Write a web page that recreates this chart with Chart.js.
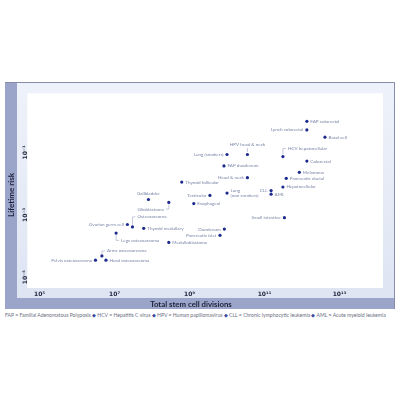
<!DOCTYPE html>
<html>
<head>
<meta charset="utf-8">
<script src="https://cdn.jsdelivr.net/npm/chart.js@4.4.1/dist/chart.umd.min.js"></script>
<style>
  html, body { margin: 0; padding: 0; background: #fff; width: 400px; height: 400px; overflow: hidden; }
  #wrap { position: absolute; left: 5px; top: 82px; width: 390px; height: 227px; }
  #note { position: absolute; left: 5px; top: 312px; white-space: nowrap; font: 5.1px Lato, sans-serif; color: #6a6e80; }
  #note b { color: #3a4a9c; font-weight: normal; }
</style>
</head>
<body>
<div id="wrap"><canvas id="riskChart"></canvas></div>
<div id="note">FAP = Familial Adenomatous Polyposis <b>&#9670;</b> HCV = Hepatitis C virus <b>&#9670;</b> HPV = Human papillomavirus <b>&#9670;</b> CLL = Chronic lymphocytic leukemia <b>&#9670;</b> AML = Acute myeloid leukemia</div>
<script>
// Cancer types, total stem cell divisions, lifetime risk
const cancers = [
  'FAP colorectal', 'Lynch colorectal', 'Basal cell', 'HPV head & neck', 'Lung (smokers)',
  'HCV hepatocellular', 'Colorectal', 'FAP duodenum', 'Melanoma', 'Head & neck',
  'Pancreatic ductal', 'Hepatocellular', 'CLL', 'AML', 'Lung (non smokers)',
  'Thyroid follicular', 'Testicular', 'Esophageal', 'Gallbladder', 'Glioblastoma',
  'Ovarian germ cell', 'Osteosarcoma', 'Thyroid medullary', 'Legs osteosarcoma', 'Medulloblastoma',
  'Duodenum', 'Pancreatic islet', 'Small intestine', 'Arms osteosarcoma', 'Pelvis osteosarcoma',
  'Head osteosarcoma'
];
const divisions = [
  1.35e12, 1.35e12, 4.1e12, 3.5e10, 1.0e10,
  3.1e11, 1.35e12, 8.3e9, 8.5e11, 3.5e10,
  3.8e11, 3.1e11, 1.5e11, 1.5e11, 1.0e10,
  6.2e8, 3.5e9, 1.3e9, 8.0e7, 2.8e8,
  2.2e7, 3.0e7, 6.0e7, 1.1e7, 2.8e8,
  8.5e9, 6.5e9, 3.4e11, 4.6e6, 3.1e6,
  5.9e6
];
const lifetimeRisk = [
  1.0, 0.53, 0.31, 0.086, 0.086,
  0.074, 0.053, 0.037, 0.023, 0.0155,
  0.0148, 0.0078, 0.006, 0.0046, 0.005,
  0.0112, 0.0042, 0.0023, 0.0031, 0.0025,
  0.00049, 0.00041, 0.00037, 0.00026, 0.00013,
  0.00035, 0.00022, 0.00081, 0.000048, 0.000035,
  0.000035
];
const xTicks = [1e5, 1e7, 1e9, 1e11, 1e13];
const yTicks = [1e-1, 1e-3, 1e-5];

// where each label sits relative to its dot (default: right)
const place = {
  'Lynch colorectal': { side: 'l' }, 'Lung (smokers)': { side: 'l' }, 'Head & neck': { side: 'l' },
  'CLL': { side: 'l' }, 'Testicular': { side: 'l' }, 'Ovarian germ cell': { side: 'l' },
  'Duodenum': { side: 'l' }, 'Pancreatic islet': { side: 'l' }, 'Small intestine': { side: 'l' },
  'Pelvis osteosarcoma': { side: 'l' },
  'HPV head & neck': { side: 'up', dy: -9.5, tick: true },
  'Gallbladder': { side: 'up', dy: -5.8 },
  'HCV hepatocellular': { side: 'r', hook: -8 },
  'Osteosarcoma': { side: 'r', hook: -10 },
  'Legs osteosarcoma': { side: 'r', hook: 7.3 },
  'Arms osteosarcoma': { side: 'r', hook: -5 },
  'Glioblastoma': { side: 'l', hook: 6.7 }
};
const multiLine = { 'Lung (non smokers)': ['Lung', '(non smokers)'] };

const supMap = { '-': '\u207B', '0': '\u2070', '1': '\u00B9', '2': '\u00B2', '3': '\u00B3', '4': '\u2074',
  '5': '\u2075', '6': '\u2076', '7': '\u2077', '8': '\u2078', '9': '\u2079' };
function powLabel(v) {
  const e = String(Math.round(Math.log10(v)));
  return '10' + e.split('').map(c => supMap[c]).join('');
}

// Frame: light panel, dark L band, white plot area, axis titles
const framePlugin = {
  id: 'frame',
  beforeDraw(chart) {
    const { ctx, chartArea: a, width: W, height: H } = chart;
    ctx.save();
    const g = ctx.createLinearGradient(0, 0, 0, H);
    g.addColorStop(0, '#eef2fa');
    g.addColorStop(1, '#dde4f2');
    ctx.fillStyle = g;
    ctx.fillRect(0, 0, W, H);
    ctx.fillStyle = '#9ba5ca';
    ctx.fillRect(0, 0, 12, H);
    ctx.fillRect(0, 216, W, H - 216);
    ctx.fillStyle = '#ffffff';
    ctx.fillRect(a.left, a.top, a.right - a.left, a.bottom - a.top);
    ctx.strokeStyle = '#858ba9';
    ctx.lineWidth = 1;
    ctx.beginPath();
    ctx.moveTo(0, 0.5); ctx.lineTo(W - 0.5, 0.5); ctx.lineTo(W - 0.5, H);
    ctx.stroke();
    ctx.restore();
  },
  afterDraw(chart) {
    const { ctx } = chart;
    ctx.save();
    ctx.fillStyle = '#1d2038';
    ctx.font = 'bold 7.8px Lato';
    ctx.textAlign = 'center';
    ctx.textBaseline = 'middle';
    ctx.fillText('Total stem cell divisions', 186, 222);
    ctx.translate(6.5, 113);
    ctx.rotate(-Math.PI / 2);
    ctx.font = 'bold 8px Lato';
    ctx.fillText('Lifetime risk', 0, 0);
    ctx.restore();
  }
};

// Text labels next to the dots
const labelPlugin = {
  id: 'pointLabels',
  afterDatasetsDraw(chart) {
    const { ctx } = chart;
    const meta = chart.getDatasetMeta(0);
    ctx.save();
    ctx.font = '4.6px Lato';
    ctx.fillStyle = '#7a85a8';
    ctx.strokeStyle = '#8a94b4';
    ctx.lineWidth = 0.5;
    ctx.textBaseline = 'middle';
    meta.data.forEach((pt, i) => {
      const name = cancers[i];
      const p = place[name] || { side: 'r' };
      const x = pt.x, y = pt.y;
      if (p.side === 'up') {
        ctx.textAlign = 'center';
        ctx.fillText(name, x, y + p.dy);
        if (p.tick) {
          ctx.beginPath(); ctx.moveTo(x, y - 2.5); ctx.lineTo(x, y + p.dy + 3); ctx.stroke();
        }
        return;
      }
      const dir = p.side === 'r' ? 1 : -1;
      ctx.textAlign = p.side === 'r' ? 'left' : 'right';
      if (p.hook) {
        const hy = y + p.hook;
        ctx.beginPath();
        ctx.moveTo(x, y + Math.sign(p.hook) * 2);
        ctx.lineTo(x, hy);
        ctx.lineTo(x + dir * 3, hy);
        ctx.stroke();
        ctx.fillText(name, x + dir * 5, hy);
        return;
      }
      const lines = multiLine[name];
      if (lines) {
        ctx.fillText(lines[0], x + dir * 3.5, y - 2.7);
        ctx.fillText(lines[1], x + dir * 3.5, y + 2.7);
      } else {
        ctx.fillText(name, x + dir * 3.5, y);
      }
    });
    ctx.restore();
  }
};

const tickFont = { family: 'DejaVu Sans', size: 6, weight: 'bold' };

new Chart(document.getElementById('riskChart'), {
  type: 'scatter',
  data: {
    datasets: [{
      data: cancers.map((c, i) => ({ x: divisions[i], y: lifetimeRisk[i] })),
      backgroundColor: '#1b2a8c',
      borderWidth: 0,
      pointRadius: 1.6
    }]
  },
  options: {
    responsive: true,
    maintainAspectRatio: false,
    animation: false,
    devicePixelRatio: 1,
    layout: { padding: { left: 0, top: 11.3, right: 12, bottom: 0 } },
    plugins: { legend: { display: false }, tooltip: { enabled: false } },
    scales: {
      x: {
        type: 'logarithmic',
        min: 4.7e4,
        max: 1.45e14,
        afterBuildTicks: s => { s.ticks = xTicks.map(v => ({ value: v })); },
        afterFit: s => { s.height = 21; },
        grid: { display: false, drawTicks: false },
        border: { display: false },
        ticks: { callback: v => powLabel(v), font: tickFont, color: '#262a44', padding: 3, maxRotation: 0, autoSkip: false }
      },
      y: {
        type: 'logarithmic',
        min: 4.5e-6,
        max: 7.9,
        afterBuildTicks: s => { s.ticks = yTicks.map(v => ({ value: v })); },
        afterFit: s => { s.width = 22.3; },
        grid: { display: false, drawTicks: false },
        border: { display: false },
        ticks: { callback: v => powLabel(v), font: tickFont, color: '#262a44', padding: -5,
          minRotation: 90, maxRotation: 90, crossAlign: 'center', autoSkip: false }
      }
    }
  },
  plugins: [framePlugin, labelPlugin]
});
</script>
</body>
</html>
